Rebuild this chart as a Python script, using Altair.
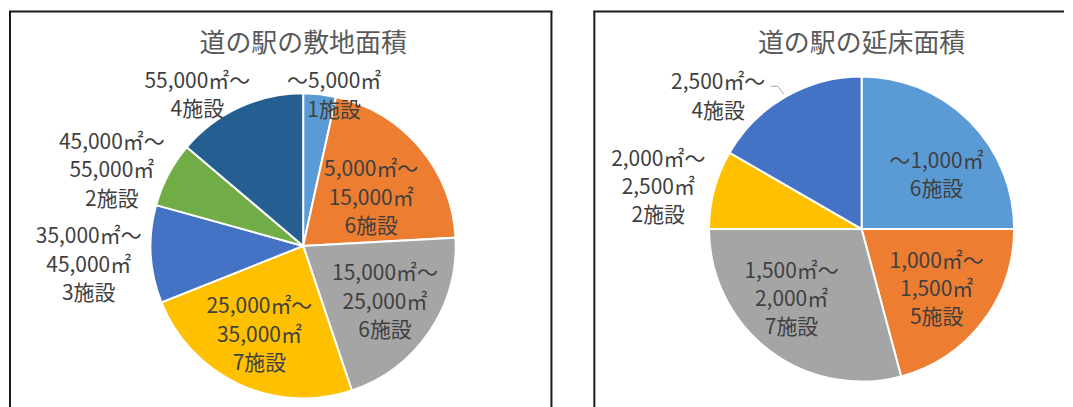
import math
import altair as alt
import pandas as pd

# ---------------- data ----------------
site_title = "道の駅の敷地面積"
site_ranges = ["～5,000㎡", "5,000㎡～\n15,000㎡", "15,000㎡～\n25,000㎡", "25,000㎡～\n35,000㎡",
               "35,000㎡～\n45,000㎡", "45,000㎡～\n55,000㎡", "55,000㎡～"]
site_counts = [1, 6, 6, 7, 3, 2, 4]
site_colors = ["#5B9BD5", "#ED7D31", "#A5A5A5", "#FFC000", "#4472C4", "#70AD47", "#255E91"]

floor_title = "道の駅の延床面積"
floor_ranges = ["～1,000㎡", "1,000㎡～\n1,500㎡", "1,500㎡～\n2,000㎡", "2,000㎡～\n2,500㎡", "2,500㎡～"]
floor_counts = [6, 5, 7, 2, 4]
floor_colors = ["#5B9BD5", "#ED7D31", "#A5A5A5", "#FFC000", "#4472C4"]

unit = "施設"

# ---------------- layout / style ----------------
FONT = "Noto Sans CJK JP"
PIE_R = 153
LABEL_SIZE = 21
LINE_H = 28.5
BORDER = "#1a1a1a"
# label placement (radius in px, angular nudge in degrees from slice middle)
site_label_r = [153, 83, 100, 100, 216, 206, 184]
site_label_shift = [5.5, 5.6, 0.7, 1.2, -2.2, -6.6, -10.4]
floor_label_r = [92, 97, 100, 208, 195]
floor_label_shift = [9.8, 1.6, 7.1, -3.6, -17.5]


def panel(title, ranges, counts, colors, lab_r, lab_shift, w, h, cx, cy, ty,
          right_border=True, top_extra=1, leader_idx=None):
    total = sum(counts)
    cum = 0
    rows = []
    for i, (rg, n) in enumerate(zip(ranges, counts)):
        mid = (cum + n / 2) / total * 2 * math.pi
        cum += n
        label = f"{rg}\n{n}{unit}"
        nlines = label.count("\n") + 1
        ang = mid + math.radians(lab_shift[i])
        lx = cx + lab_r[i] * math.sin(ang)
        ly = cy - lab_r[i] * math.cos(ang) - (nlines - 1) * LINE_H / 2
        rows.append(dict(idx=i, cat=rg, n=n, label=label, lx=lx, ly=ly, mid=mid))
    df = pd.DataFrame(rows)
    base = alt.Chart(df)
    arcs = base.mark_arc(radius=PIE_R, stroke="white", strokeWidth=2).encode(
        theta=alt.Theta("n:Q", stack=True),
        color=alt.Color("cat:N", scale=alt.Scale(domain=ranges, range=colors), legend=None),
        order=alt.Order("idx:Q"),
        x=alt.value(cx), y=alt.value(cy),
    )
    labels = base.mark_text(font=FONT, fontSize=LABEL_SIZE, color="#404040", lineBreak="\n",
                            lineHeight=LINE_H, align="center", baseline="middle").encode(
        text="label:N",
        x=alt.X("lx:Q", scale=None),
        y=alt.Y("ly:Q", scale=None),
    )
    one = pd.DataFrame({"t": [title]})
    ttl = alt.Chart(one).mark_text(
        font=FONT, fontSize=26, color="#595959", align="center", baseline="middle").encode(
        text="t:N", x=alt.value(cx), y=alt.value(ty))
    # frame of the panel
    frame = [
        alt.Chart(one).mark_rule(color=BORDER, strokeWidth=2).encode(
            x=alt.value(0), y=alt.value(0), y2=alt.value(h)),
        alt.Chart(one).mark_rule(color=BORDER, strokeWidth=2).encode(
            x=alt.value(-1), x2=alt.value(w + top_extra), y=alt.value(0)),
    ]
    if right_border:
        frame.append(alt.Chart(one).mark_rule(color=BORDER, strokeWidth=2).encode(
            x=alt.value(w), y=alt.value(0), y2=alt.value(h)))
    layers = [arcs, labels, ttl] + frame
    if leader_idx is not None:
        m = rows[leader_idx]["mid"]
        x1 = cx + (PIE_R + 3) * math.sin(m)
        y1 = cy - (PIE_R + 3) * math.cos(m)
        ld = pd.DataFrame({"o": [0, 1, 2],
                           "px": [x1, x1 - 6, x1 - 13],
                           "py": [y1, y1 - 8, y1 - 8]})
        leader = alt.Chart(ld).mark_line(color="#A6A6A6", strokeWidth=1).encode(
            x=alt.X("px:Q", scale=None), y=alt.Y("py:Q", scale=None), order="o:Q")
        layers.append(leader)
    return alt.layer(*layers).properties(width=w, height=h)


left = panel(site_title, site_ranges, site_counts, site_colors,
             site_label_r, site_label_shift, 543, 420, 294, 235, 33)
right = panel(floor_title, floor_ranges, floor_counts, floor_colors,
              floor_label_r, floor_label_shift, 470, 420, 268, 218, 33,
              right_border=False, top_extra=1, leader_idx=4)

chart = alt.hconcat(left, right, spacing=43, bounds="flush").properties(
    padding={"left": 0, "top": 2, "right": 0, "bottom": 0}
).configure_view(stroke="transparent", strokeWidth=0)

chart.save("out.html", embed_options={"renderer": "svg", "actions": False})
